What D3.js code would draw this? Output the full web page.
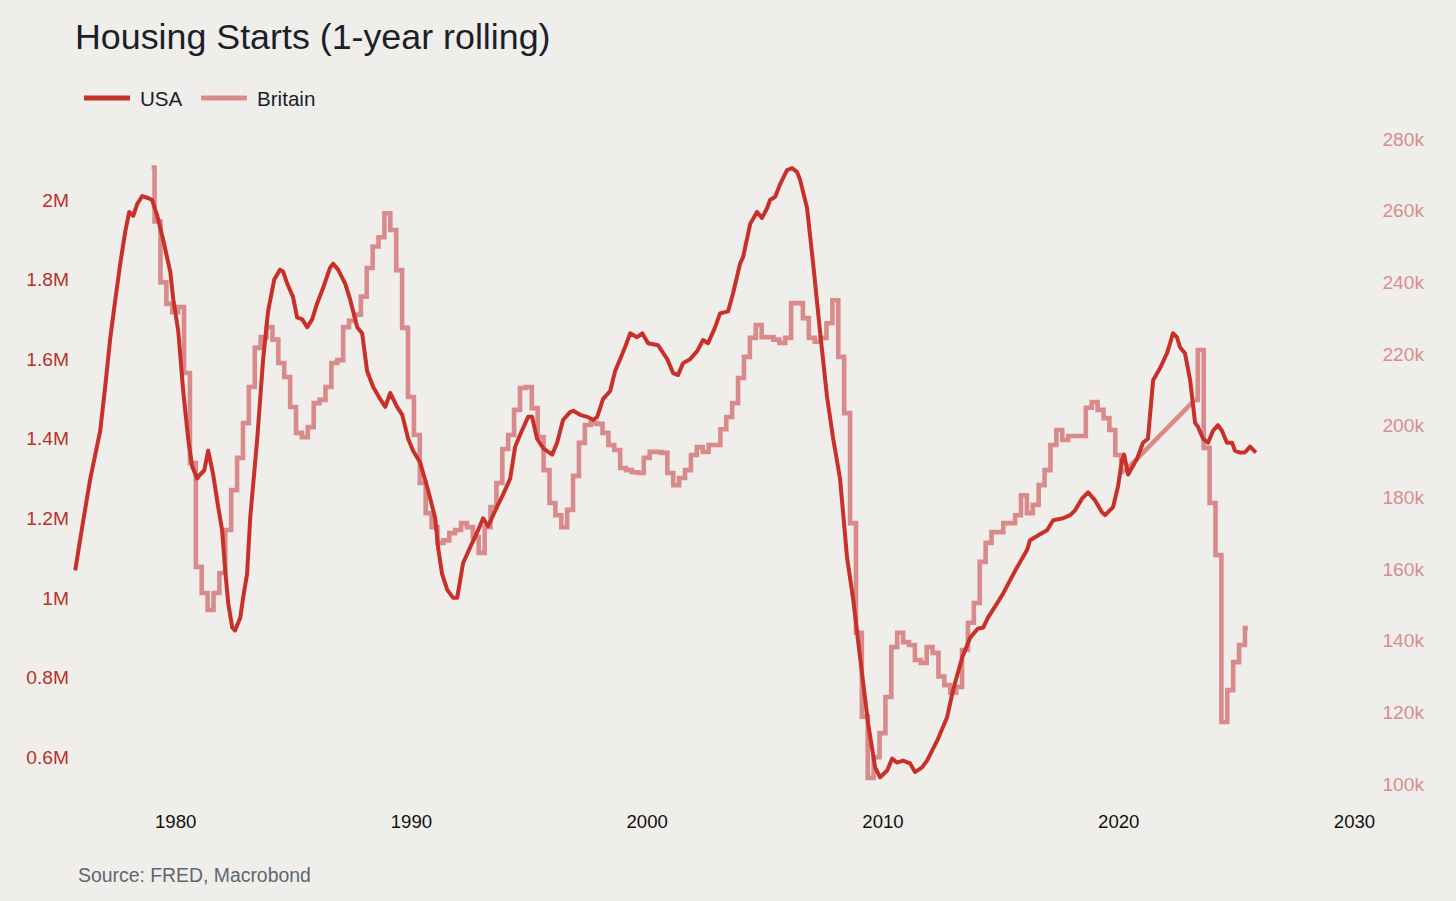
<!DOCTYPE html>
<html>
<head>
<meta charset="utf-8">
<script src="https://cdn.jsdelivr.net/npm/d3@7"></script>
<style>
  html, body { margin: 0; padding: 0; background: #f0eeeb; }
  svg { display: block; font-family: "Liberation Sans", Arial, Helvetica, sans-serif; }
</style>
</head>
<body>
<svg id="chart" width="1456" height="901"></svg>
<script>
// ---------- DATA ----------
const title = "Housing Starts (1-year rolling)";
const source = "Source: FRED, Macrobond";
const seriesNames = ["USA", "Britain"];

// USA: 1-year rolling housing starts, millions (sampled from the chart)
const usaYears = [
  1975.76,1976.06,1976.40,1976.61,1976.82,1977.03,1977.24,1977.46,1977.67,1977.88,
  1978.05,1978.22,1978.39,1978.60,1978.85,1979.02,1979.24,1979.49,1979.79,1979.92,
  1980.13,1980.34,1980.55,1980.72,1980.93,1981.06,1981.23,1981.40,1981.61,1981.82,
  1981.99,1982.12,1982.25,1982.42,1982.54,1982.76,1982.88,1983.05,1983.18,1983.48,
  1983.73,1983.94,1984.20,1984.45,1984.58,1984.75,1985.00,1985.17,1985.39,1985.60,
  1985.81,1986.02,1986.28,1986.57,1986.70,1986.91,1987.21,1987.42,1987.72,1987.93,
  1988.14,1988.40,1988.69,1988.91,1989.12,1989.41,1989.63,1989.88,1990.09,1990.39,
  1990.73,1991.03,1991.15,1991.32,1991.54,1991.79,1991.96,1992.21,1992.51,1992.85,
  1993.06,1993.27,1993.66,1993.91,1994.21,1994.42,1994.63,1994.97,1995.14,1995.35,
  1995.61,1995.99,1996.20,1996.45,1996.75,1996.88,1997.18,1997.47,1997.73,1997.90,
  1998.15,1998.45,1998.66,1998.87,1999.08,1999.30,1999.59,1999.81,2000.06,2000.48,
  2000.87,2001.12,2001.33,2001.54,2001.84,2002.14,2002.39,2002.60,2002.90,2003.11,
  2003.45,2003.66,2003.96,2004.09,2004.39,2004.68,2004.89,2005.11,2005.23,2005.45,
  2005.66,2005.95,2006.17,2006.38,2006.51,2006.80,2007.06,2007.35,2007.65,2007.91,
  2008.20,2008.50,2008.75,2009.05,2009.39,2009.69,2009.90,2010.20,2010.41,2010.62,
  2010.87,2011.17,2011.38,2011.68,2011.89,2012.32,2012.74,2012.99,2013.38,2013.72,
  2014.05,2014.27,2014.48,2014.86,2015.11,2015.41,2015.71,2016.13,2016.26,2016.68,
  2016.98,2017.24,2017.66,2017.96,2018.17,2018.47,2018.72,2019.02,2019.31,2019.44,
  2019.78,2019.99,2020.16,2020.25,2020.42,2020.80,2021.05,2021.26,2021.48,2021.77,
  2022.07,2022.20,2022.32,2022.49,2022.62,2022.83,2023.05,2023.26,2023.38,2023.60,
  2023.81,2024.02,2024.23,2024.40,2024.61,2024.83,2024.95,2025.17,2025.38,2025.59,
  2025.84
];
const usaValues = [
  1.069,1.18,1.30,1.36,1.42,1.53,1.65,1.75,1.84,1.92,
  1.97,1.96,1.99,2.01,2.005,2.00,1.96,1.90,1.82,1.75,
  1.67,1.52,1.40,1.33,1.30,1.31,1.32,1.37,1.31,1.23,
  1.17,1.07,0.986,0.925,0.918,0.95,1.00,1.06,1.20,1.40,
  1.60,1.72,1.80,1.825,1.82,1.79,1.756,1.705,1.70,1.68,
  1.70,1.74,1.78,1.83,1.84,1.825,1.79,1.75,1.68,1.665,
  1.57,1.53,1.50,1.48,1.515,1.48,1.46,1.40,1.37,1.34,
  1.27,1.20,1.127,1.06,1.02,1.00,1.00,1.087,1.127,1.17,
  1.20,1.18,1.23,1.26,1.30,1.38,1.41,1.455,1.455,1.40,
  1.376,1.36,1.39,1.447,1.467,1.47,1.46,1.455,1.447,1.455,
  1.50,1.52,1.57,1.60,1.63,1.665,1.655,1.665,1.64,1.635,
  1.60,1.565,1.56,1.59,1.60,1.62,1.648,1.64,1.68,1.715,
  1.72,1.765,1.84,1.857,1.94,1.97,1.955,1.98,2.00,2.008,
  2.04,2.075,2.08,2.07,2.05,1.98,1.84,1.67,1.505,1.40,
  1.30,1.10,1.00,0.85,0.684,0.574,0.549,0.566,0.596,0.586,
  0.591,0.584,0.562,0.574,0.591,0.641,0.70,0.767,0.85,0.90,
  0.923,0.925,0.951,0.986,1.01,1.044,1.077,1.12,1.145,1.16,
  1.17,1.195,1.20,1.208,1.22,1.25,1.265,1.245,1.215,1.208,
  1.228,1.28,1.346,1.36,1.31,1.35,1.39,1.40,1.547,1.577,
  1.615,1.64,1.665,1.655,1.63,1.615,1.547,1.44,1.43,1.40,
  1.39,1.42,1.434,1.42,1.39,1.39,1.37,1.365,1.366,1.38,
  1.365
];

// Britain: quarterly, thousands, first quarter 1979 Q1; null = missing quarters
const britainStartYear = 1979;
const britainValues = [
  272,257,240,234,231.7,233.1,214.7,189.6,160.6,153.3,
  148.6,153.3,158.9,170.9,182,191,200.7,210.8,221.7,224.7,
  227.5,224,217.5,213.6,205.2,198,196.8,199.6,206.3,207.2,
  210.8,217.5,218.3,227.5,229.3,231,236,244,250,252.6,
  259.3,254.6,243.4,227.3,208,197.4,184,175.6,171.7,167.3,
  168,170,170.9,172.8,171.7,168.9,164.5,171.7,177.3,184,
  193.5,197.4,204.4,210.5,210.8,204.9,196.8,187.6,178.4,175,
  171.7,176.5,186,195.2,200.2,200.7,200.5,198,194.6,193.2,
  188.2,187.6,187,186.8,191,192.7,192.7,192.4,186.8,183.4,
  185.4,187.6,191.8,194,192.7,194.6,194.6,199,202.4,206.3,
  213.3,219.2,224.5,228.1,224.7,224.7,224,223.1,224.5,234.2,
  234.2,230,224.5,223.4,224.5,228.6,235,219.2,203.5,172.8,
  142.2,118.8,101.7,107.5,114.2,124.3,138.2,142.2,139.6,138.8,
  134.6,133.8,138.2,136.6,130,127.6,125.5,127.1,137.4,145,
  150.5,162,167.3,170.3,170.3,172.8,172.8,175,180.6,175.6,
  177.9,183.4,187.6,194.6,198.8,196,197.1,197.1,197.1,205,
  206.6,204.4,202.1,198.8,191.8,187.1,null,null,null,null,
  null,null,null,null,null,null,null,207.2,221.1,193.8,
  178.4,163.9,117.3,126.2,134,138.8,143.5
];

const xTicks = [1980, 1990, 2000, 2010, 2020, 2030];
const leftTicks = [0.6, 0.8, 1.0, 1.2, 1.4, 1.6, 1.8, 2.0];
const leftTickLabels = ["0.6M", "0.8M", "1M", "1.2M", "1.4M", "1.6M", "1.8M", "2M"];
const rightTicks = [100, 120, 140, 160, 180, 200, 220, 240, 260, 280];
const rightTickLabels = ["100k", "120k", "140k", "160k", "180k", "200k", "220k", "240k", "260k", "280k"];

// ---------- STYLE ----------
const colUSA = "#c8302a";
const colGB = "#d98b8b";
const colLeftAxis = "#b8322b";
const colRightAxis = "#d48f8f";

// ---------- SCALES ----------
const svg = d3.select("#chart");
const x = d3.scaleLinear().domain([1975.75, 2030]).range([75, 1354]);
const yL = d3.scaleLinear().domain([0.6, 2.0]).range([757, 200]);
const yR = d3.scaleLinear().domain([100, 280]).range([784, 139]);

svg.append("rect").attr("width", 1456).attr("height", 901).attr("fill", "#f0eeeb");

// Title
svg.append("text").attr("x", 75).attr("y", 49)
  .attr("font-size", 35.8).attr("fill", "#1b1f2a").text(title);

// Legend
const legend = [
  {name: seriesNames[0], color: colUSA, x: 84},
  {name: seriesNames[1], color: colGB, x: 201}
];
legend.forEach(l => {
  svg.append("line").attr("x1", l.x).attr("x2", l.x + 46).attr("y1", 98).attr("y2", 98)
    .attr("stroke", l.color).attr("stroke-width", 5);
  svg.append("text").attr("x", l.x + 56).attr("y", 106).attr("font-size", 20.6)
    .attr("fill", "#1b1f2a").text(l.name);
});

// Left axis
const leftAxis = d3.axisLeft(yL).tickValues(leftTicks)
  .tickFormat((d, i) => leftTickLabels[i]).tickSize(0).tickPadding(0);
const gL = svg.append("g").attr("transform", "translate(69,0)").call(leftAxis);
gL.select(".domain").remove();
gL.selectAll("text").attr("font-size", 19.2).attr("fill", colLeftAxis)
  .attr("font-family", "Liberation Sans, Arial, sans-serif");

// Right axis
const rightAxis = d3.axisRight(yR).tickValues(rightTicks)
  .tickFormat((d, i) => rightTickLabels[i]).tickSize(0).tickPadding(0);
const gR = svg.append("g").attr("transform", "translate(1424,0)").call(rightAxis);
gR.select(".domain").remove();
gR.selectAll("text").attr("font-size", 19.2).attr("fill", colRightAxis)
  .attr("text-anchor", "end")
  .attr("font-family", "Liberation Sans, Arial, sans-serif");

// X axis
const xAxis = d3.axisBottom(x).tickValues(xTicks).tickFormat(d3.format("d")).tickSize(0).tickPadding(0);
const gX = svg.append("g").attr("transform", "translate(0,815)").call(xAxis);
gX.select(".domain").remove();
gX.selectAll("text").attr("font-size", 18.6).attr("fill", "#111")
  .attr("font-family", "Liberation Sans, Arial, sans-serif");

// Britain series: split into runs of non-null quarters
const gbPts = britainValues.map((v, i) => ({t: britainStartYear + i / 4, v}));
const runs = [];
let cur = [];
gbPts.forEach(p => {
  if (p.v === null) { if (cur.length) { runs.push(cur); cur = []; } }
  else cur.push(p);
});
if (cur.length) runs.push(cur);

const stepLine = d3.line().x(d => x(d.t)).y(d => yR(d.v)).curve(d3.curveStep);
const straight = d3.line().x(d => x(d.t)).y(d => yR(d.v));
runs.forEach((r, i) => {
  svg.append("path").attr("d", stepLine(r)).attr("fill", "none")
    .attr("stroke", colGB).attr("stroke-width", 4.6).attr("stroke-linejoin", "miter");
  if (i < runs.length - 1) {
    const next = runs[i + 1];
    svg.append("path").attr("d", straight([r[r.length - 1], next[0]])).attr("fill", "none")
      .attr("stroke", colGB).attr("stroke-width", 4.6);
  }
});

// USA series
const usaPts = usaYears.map((t, i) => ({t, v: usaValues[i]}));
const usaLine = d3.line().x(d => x(d.t)).y(d => yL(d.v));
svg.append("path").attr("d", usaLine(usaPts)).attr("fill", "none")
  .attr("stroke", colUSA).attr("stroke-width", 4).attr("stroke-linejoin", "round");

// Source
svg.append("text").attr("x", 78).attr("y", 882).attr("font-size", 19.4)
  .attr("fill", "#5f6673").text(source);
</script>
</body>
</html>
